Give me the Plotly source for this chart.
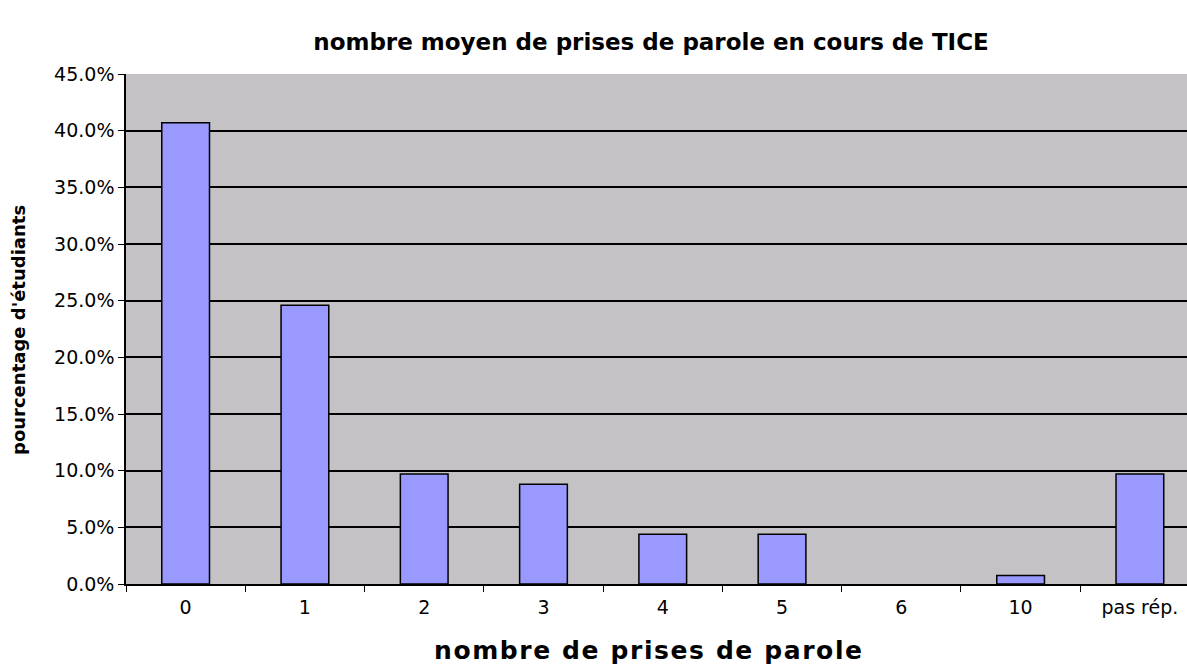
import plotly.graph_objects as go

# Nombre moyen de prises de parole par étudiant en cours de TICE
categories = ["0", "1", "2", "3", "4", "5", "6", "10", "pas rép."]
pourcentages = [40.7, 24.6, 9.7, 8.8, 4.4, 4.4, 0.0, 0.75, 9.7]
y_ticks = [0, 5, 10, 15, 20, 25, 30, 35, 40, 45]
y_tick_labels = [f"{v:.1f}%" for v in y_ticks]

W, H = 1187, 666
L, R, T, B = 126, 0, 74, 82
plot_w = W - L - R
plot_h = H - T - B

# empty categories get no outline
line_widths = [0 if v == 0 else 1.5 for v in pourcentages]

fig = go.Figure(
    go.Bar(
        x=categories,
        y=pourcentages,
        width=0.4,
        marker=dict(color="#9999FF", line=dict(color="#000000", width=line_widths)),
    )
)

title_font = "DejaVu Sans, Verdana, sans-serif"

fig.update_layout(
    width=W,
    height=H,
    margin=dict(l=L, r=R, t=T, b=B),
    paper_bgcolor="#FFFFFF",
    plot_bgcolor="#C4C2C5",
    showlegend=False,
    font=dict(family=title_font, color="#000000"),
    title=dict(
        text="<b>nombre moyen de prises de parole en cours de TICE</b>",
        font=dict(size=23, family=title_font),
        xref="container", x=651 / W, xanchor="center",
        yref="container", y=1 - 42 / H, yanchor="middle",
    ),
    annotations=[
        dict(
            text="<span style='letter-spacing:1.6px'><b>nombre de prises de parole</b></span>",
            xref="paper", yref="paper",
            x=(649 - L) / plot_w, y=-(650 - (T + plot_h)) / plot_h,
            xanchor="center", yanchor="middle", showarrow=False,
            font=dict(size=25, family=title_font),
        ),
        dict(
            text="<b>pourcentage d'étudiants</b>",
            xref="paper", yref="paper",
            x=(18 - L) / plot_w, y=1 - (330 - T) / plot_h,
            xanchor="center", yanchor="middle", showarrow=False,
            textangle=-90,
            font=dict(size=18, family=title_font),
        ),
    ],
)

fig.update_xaxes(
    type="category",
    range=[-0.5, 8.395],
    showgrid=False,
    showline=True, linecolor="#000000", linewidth=1.5,
    ticks="outside", ticklen=6, tickcolor="#000000", tickwidth=1,
    tickson="boundaries",
    tickfont=dict(size=19, family="DejaVu Sans, sans-serif"),
    ticklabelstandoff=5,
)

fig.update_yaxes(
    range=[0, 45],
    tickvals=y_ticks,
    ticktext=y_tick_labels,
    showgrid=True, gridcolor="#000000", gridwidth=1.5,
    showline=True, linecolor="#000000", linewidth=1.5,
    ticks="outside", ticklen=6, tickcolor="#000000", tickwidth=1,
    tickfont=dict(size=19, family="DejaVu Sans, sans-serif"),
    zeroline=False,
)

fig.write_html("out.html")
